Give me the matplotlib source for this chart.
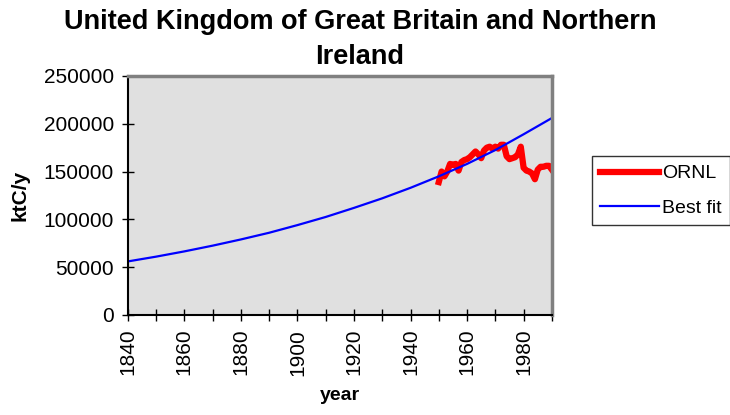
import matplotlib
matplotlib.use('Agg')
import matplotlib.pyplot as plt

# ORNL yearly emissions (ktC/y)
ornl_years = list(range(1950, 1991))
ornl_values = [139000, 150000, 145000, 150000, 158000, 157000, 158000, 151000, 160000, 162000,
               163000, 165000, 168000, 171000, 168000, 164000, 172000, 175000, 176000, 174000,
               176000, 174000, 178000, 178000, 166000, 163000, 164000, 165000, 168000, 176000,
               154000, 151000, 150000, 148000, 142000, 152000, 155000, 155000, 156000, 156000,
               152000]

# best-fit curve, read every 10 years
fit_years = [1840, 1850, 1860, 1870, 1880, 1890, 1900, 1910, 1920, 1930, 1940, 1950, 1960, 1970, 1980, 1990]
fit_values = [56000, 61000, 66500, 72500, 79000, 86000, 94000, 102500, 112000, 122000,
              133000, 145000, 158000, 172500, 189000, 206000]

ytick_values = [0, 50000, 100000, 150000, 200000, 250000]
title_lines = ['United Kingdom of Great Britain and Northern', 'Ireland']

plt.rcParams['font.family'] = ['Liberation Sans', 'DejaVu Sans']

fig = plt.figure(figsize=(7.3, 4.15), dpi=100)
ax = fig.add_axes([0.175, 0.241, 0.581, 0.576])
ax.set_facecolor('#e0e0e0')

ax.plot(ornl_years, ornl_values, color='#ff0000', linewidth=4.5, label='ORNL', solid_joinstyle='round')
ax.plot(fit_years, fit_values, color='#0000ff', linewidth=1.6, label='Best fit')

ax.set_xlim(1840, 1990)
ax.set_ylim(0, 250000)
ax.set_xticks(range(1840, 1991, 10))
ax.set_xticklabels([str(y) if y % 20 == 0 and y < 1990 else '' for y in range(1840, 1991, 10)],
                   rotation=90, fontsize=15)
ax.set_yticks(ytick_values)
ax.set_yticklabels([str(v) for v in ytick_values], fontsize=15)
ax.tick_params(axis='both', direction='inout', length=8, width=1, color='black')
ax.tick_params(axis='x', pad=6)
ax.tick_params(axis='y', pad=6)

for side in ['top', 'right']:
    ax.spines[side].set_color('#808080')
    ax.spines[side].set_linewidth(2.5)
for side in ['left', 'bottom']:
    ax.spines[side].set_color('black')
    ax.spines[side].set_linewidth(1.5)

ax.set_xlabel('year', fontsize=14, fontweight='bold', labelpad=8)
ax.set_ylabel('ktC/y', fontsize=15, fontweight='bold', labelpad=10)

# title as two separate lines (like the Excel original)
fig.text(0.493, 1 - 22 / 415, title_lines[0], fontsize=19.5, fontweight='bold', ha='center', va='center')
fig.text(0.493, 1 - 57 / 415, title_lines[1], fontsize=19.5, fontweight='bold', ha='center', va='center')

leg = ax.legend(loc='center left', bbox_to_anchor=(1.094, 0.52), fontsize=14, frameon=True,
                fancybox=False, edgecolor='black', borderpad=0.45, handlelength=3.0,
                handletextpad=0.15, labelspacing=0.85, borderaxespad=0)
leg.get_frame().set_linewidth(1)

fig.savefig('out.png', dpi=100)
